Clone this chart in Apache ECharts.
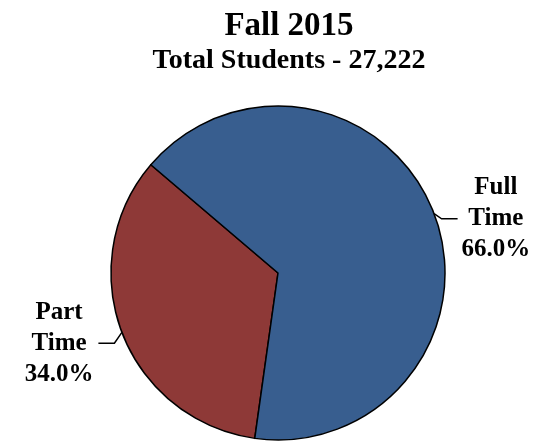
<!DOCTYPE html>
<html>
<head>
<meta charset="utf-8">
<script src="https://cdn.jsdelivr.net/npm/echarts@6/dist/echarts.min.js"></script>
<style>
    html, body { margin: 0; padding: 0; background: #ffffff; }
    #main { width: 539px; height: 444px; }
</style>
</head>
<body>
<div id="main"></div>
<script>
    // 数据
    var categories = ['Part\nTime', 'Full\nTime'];
    var percents = [34.0, 66.0];
    var colors = ['#8e3937', '#385e8f'];

    var myChart = echarts.init(document.getElementById('main'));
    var serifFont = '"Liberation Serif", "Times New Roman", serif';

    var data = categories.map(function (name, i) {
        return { name: name, value: percents[i] };
    });

    var option = {
        backgroundColor: '#ffffff',
        animation: false,
        title: {
            text: 'Fall 2015',
            subtext: 'Total Students - 27,222',
            left: 284,
            textAlign: 'center', //以 left 为中心
            top: 5,
            itemGap: 4,
            textStyle: {
                fontFamily: serifFont,
                fontWeight: 'bold',
                fontSize: 33,
                color: '#000000'
            },
            subtextStyle: {
                fontFamily: serifFont,
                fontWeight: 'bold',
                fontSize: 28,
                color: '#000000'
            }
        },
        color: colors,
        series: [{
            type: 'pie',
            center: [278, 273],
            radius: 167,
            startAngle: 262, //从底部开始
            clockwise: true,
            itemStyle: {
                borderColor: '#000000',
                borderWidth: 1.5
            },
            label: {
                show: true,
                position: 'outside',
                overflow: 'none',
                formatter: function (p) {
                    return p.name.split('\n').concat(p.value.toFixed(1) + '%').map(function (s) {
                        return '{c|' + s + '}';
                    }).join('\n');
                },
                rich: {
                    c: {
                        align: 'center',
                        fontFamily: serifFont,
                        fontWeight: 'bold',
                        fontSize: 25,
                        lineHeight: 31,
                        color: '#000000'
                    }
                }
            },
            labelLine: {
                show: true,
                length: 8,
                length2: 16,
                lineStyle: { color: '#000000', width: 1.5 }
            },
            labelLayout: function (params) {
                var dy = 8;
                var pts = params.labelLinePoints;
                if (!pts) {
                    return { dy: dy };
                }
                return {
                    dy: dy,
                    labelLinePoints: [
                        pts[0],
                        [pts[1][0], pts[1][1] + dy],
                        [pts[2][0], pts[2][1] + dy]
                    ]
                };
            },
            emphasis: { disabled: true },
            data: data
        }]
    };

    myChart.setOption(option);
    window.addEventListener('resize', function () {
        myChart.resize();
    });
</script>
</body>
</html>
